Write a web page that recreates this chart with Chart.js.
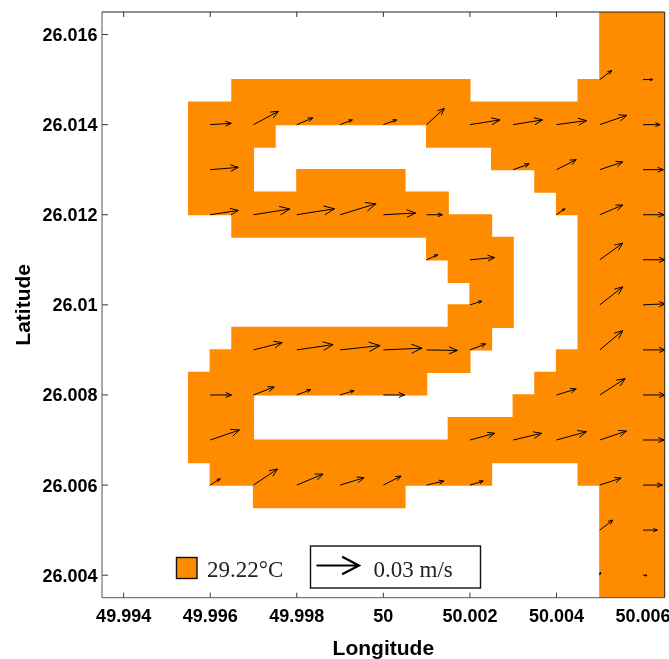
<!DOCTYPE html>
<html>
<head>
<meta charset="utf-8">
<title>Currents and temperature</title>
<script src="https://cdn.jsdelivr.net/npm/chart.js@4/dist/chart.umd.min.js"></script>
<style>
  html, body { margin: 0; padding: 0; background: #fff; }
  canvas { display: block; }
</style>
</head>
<body>
<canvas id="quiver" width="669" height="659"></canvas>
<script>
const xTicks = [49.994, 49.996, 49.998, 50, 50.002, 50.004, 50.006];
const xTickLabels = ['49.994', '49.996', '49.998', '50', '50.002', '50.004', '50.006'];
const yTicks = [26.004, 26.006, 26.008, 26.01, 26.012, 26.014, 26.016];
const yTickLabels = ['26.004', '26.006', '26.008', '26.01', '26.012', '26.014', '26.016'];

// centre latitude of each row of cells, and the lon ranges that are water in that row
const rowLat = [26.01625, 26.01575, 26.01525, 26.01475, 26.01425, 26.01375, 26.01325, 26.01275, 26.01225,
  26.01175, 26.01125, 26.01075, 26.01025, 26.00975, 26.00925, 26.00875, 26.00825, 26.00775, 26.00725,
  26.00675, 26.00625, 26.00575, 26.00525, 26.00475, 26.00425, 26.00375];
const rowSpans = [
  [[50.005, 50.0065]],
  [[50.005, 50.0065]],
  [[50.005, 50.0065]],
  [[49.9965, 50.002], [50.0045, 50.0065]],
  [[49.9955, 50.0065]],
  [[49.9955, 49.9975], [50.001, 50.0065]],
  [[49.9955, 49.997], [50.0025, 50.0065]],
  [[49.9955, 49.997], [49.998, 50.0005], [50.0035, 50.0065]],
  [[49.9955, 50.0015], [50.004, 50.0065]],
  [[49.9965, 50.0025], [50.0045, 50.0065]],
  [[50.001, 50.003], [50.0045, 50.0065]],
  [[50.0015, 50.003], [50.0045, 50.0065]],
  [[50.002, 50.003], [50.0045, 50.0065]],
  [[50.0015, 50.003], [50.0045, 50.0065]],
  [[49.9965, 50.0025], [50.0045, 50.0065]],
  [[49.996, 50.002], [50.004, 50.0065]],
  [[49.9955, 50.001], [50.0035, 50.0065]],
  [[49.9955, 49.997], [50.003, 50.0065]],
  [[49.9955, 49.997], [50.0015, 50.0065]],
  [[49.9955, 50.0065]],
  [[49.996, 50.0025], [50.0045, 50.0065]],
  [[49.997, 50.0005], [50.005, 50.0065]],
  [[50.005, 50.0065]],
  [[50.005, 50.0065]],
  [[50.005, 50.0065]],
  [[50.005, 50.0065]]
];

// arrows, row by row from the top. u and v in cm/s
const arrowLon = [
  50.005, 50.006,
  49.996, 49.997, 49.998, 49.999, 50, 50.001, 50.002, 50.003, 50.004, 50.005, 50.006,
  49.996, 50.003, 50.004, 50.005, 50.006,
  49.996, 49.997, 49.998, 49.999, 50, 50.001, 50.004, 50.005, 50.006,
  50.001, 50.002, 50.005, 50.006,
  50.002, 50.005, 50.006,
  49.997, 49.998, 49.999, 50, 50.001, 50.002, 50.005, 50.006,
  49.996, 49.997, 49.998, 49.999, 50, 50.004, 50.005, 50.006,
  49.996, 50.002, 50.003, 50.004, 50.005, 50.006,
  49.996, 49.997, 49.998, 49.999, 50, 50.001, 50.002, 50.005, 50.006,
  50.005, 50.006,
  50.005, 50.006
];
const arrowLat = [
  26.015, 26.015,
  26.014, 26.014, 26.014, 26.014, 26.014, 26.014, 26.014, 26.014, 26.014, 26.014, 26.014,
  26.013, 26.013, 26.013, 26.013, 26.013,
  26.012, 26.012, 26.012, 26.012, 26.012, 26.012, 26.012, 26.012, 26.012,
  26.011, 26.011, 26.011, 26.011,
  26.01, 26.01, 26.01,
  26.009, 26.009, 26.009, 26.009, 26.009, 26.009, 26.009, 26.009,
  26.008, 26.008, 26.008, 26.008, 26.008, 26.008, 26.008, 26.008,
  26.007, 26.007, 26.007, 26.007, 26.007, 26.007,
  26.006, 26.006, 26.006, 26.006, 26.006, 26.006, 26.006, 26.006, 26.006,
  26.005, 26.005,
  26.004, 26.004
];
const arrowU = [
  0.84, 0.68,
  1.47, 1.75, 1.12, 0.86, 0.93, 1.24, 2.1, 2.05, 2.1, 1.89, 1.19,
  1.96, 1.12, 1.38, 1.61, 1.42,
  1.96, 2.54, 2.64, 2.52, 2.26, 1.1, 0.58, 1.61, 1.47,
  0.77, 1.73, 1.61, 1.54,
  0.84, 1.61, 1.54,
  2.01, 2.54, 2.8, 2.71, 2.15, 1.1, 1.61, 1.54,
  1.49, 1.45, 0.98, 0.98, 1.49, 1.38, 1.77, 1.54,
  2.05, 1.73, 1.98, 2.1, 1.87, 1.47,
  0.7, 1.68, 1.84, 1.68, 1.24, 1.21, 0.93, 1.49, 1.35,
  0.91, 1.0,
  0.05, 0.28
];
const arrowV = [
  0.63, 0,
  0.09, 0.93, 0.47, 0.33, 0.33, 1.14, 0.33, 0.33, 0.28, 0.65, 0,
  0.16, 0.4, 0.7, 0.54, 0,
  0.3, 0.4, 0.42, 0.77, 0.12, 0, 0.42, 0.68, 0,
  0.35, 0.16, 1.17, 0,
  0.26, 1.26, 0.07,
  0.51, 0.37, 0.3, 0.12, -0.04, 0.42, 1.35, 0,
  0, 0.56, 0.37, 0.3, 0, 0.42, 1.14, 0,
  0.7, 0.47, 0.47, 0.58, 0.63, 0,
  0.44, 1.12, 0.77, 0.51, 0.63, 0.28, 0.28, 0.49, 0,
  0.7, 0,
  0.21, -0.02
];

const tempLabel = '29.22°C';
const speedLabel = '0.03 m/s';
const PX_PER_CM = 14.3;
const ORANGE = '#ff8c00';

// one bar dataset per span position, bars in the same row sit on top of each other
let spanDatasets = [];
for (let k = 0; k < 3; k++) {
  let pts = [];
  rowLat.forEach((lat, i) => {
    if (rowSpans[i][k]) pts.push({ x: rowSpans[i][k], y: lat });
  });
  spanDatasets.push({
    type: 'bar',
    indexAxis: 'y',
    grouped: false,
    data: pts,
    backgroundColor: ORANGE,
    barPercentage: 1,
    categoryPercentage: 1,
    inflateAmount: 0.6,
    order: 2
  });
}

const arrowDataset = {
  type: 'scatter',
  data: arrowLon.map((lon, i) => ({ x: lon, y: arrowLat[i] })),
  pointRadius: 0,
  order: 1
};

function drawArrow(ctx, x0, y0, x1, y1, barb, spread) {
  const a = Math.atan2(y1 - y0, x1 - x0);
  ctx.beginPath();
  ctx.moveTo(x0, y0);
  ctx.lineTo(x1, y1);
  ctx.moveTo(x1 - barb * Math.cos(a - spread), y1 - barb * Math.sin(a - spread));
  ctx.lineTo(x1, y1);
  ctx.lineTo(x1 - barb * Math.cos(a + spread), y1 - barb * Math.sin(a + spread));
  ctx.stroke();
}

const ticksPlugin = {
  id: 'ticksPlugin',
  beforeDraw(chart) {
    // y labels sit a little lower than chart.js centres them
    chart.scales.y.getLabelItems().forEach(item => {
      if (!item.shifted) {
        item.options.translation[1] += 1.5;
        item.shifted = true;
      }
    });
  },
  beforeDatasetsDraw(chart) {
    const { ctx, chartArea: a, scales: { x, y } } = chart;
    ctx.save();
    ctx.strokeStyle = '#333';
    ctx.lineWidth = 1;
    ctx.beginPath();
    x.ticks.forEach(t => {
      const px = x.getPixelForValue(t.value);
      ctx.moveTo(px, a.bottom); ctx.lineTo(px, a.bottom - 5);
      ctx.moveTo(px, a.top); ctx.lineTo(px, a.top + 5);
    });
    y.ticks.forEach(t => {
      const py = y.getPixelForValue(t.value);
      ctx.moveTo(a.left, py); ctx.lineTo(a.left + 6, py);
    });
    ctx.stroke();
    ctx.restore();
  }
};

const quiverPlugin = {
  id: 'quiverPlugin',
  afterDatasetsDraw(chart) {
    const { ctx, chartArea: a, scales: { x, y } } = chart;
    ctx.save();
    ctx.beginPath();
    ctx.rect(a.left, a.top, a.right - a.left, a.bottom - a.top);
    ctx.clip();
    ctx.strokeStyle = '#000';
    ctx.lineWidth = 1;
    arrowLon.forEach((lon, i) => {
      const x0 = x.getPixelForValue(lon);
      const y0 = y.getPixelForValue(arrowLat[i]);
      const dx = arrowU[i] * PX_PER_CM;
      const dy = arrowV[i] * PX_PER_CM;
      const len = Math.sqrt(dx * dx + dy * dy);
      drawArrow(ctx, x0, y0, x0 + dx, y0 - dy, Math.max(len * 0.3, 2), 0.4);
    });
    ctx.restore();

    // axes box
    ctx.save();
    ctx.lineWidth = 1;
    ctx.strokeStyle = '#555';
    ctx.beginPath();
    ctx.moveTo(a.left, a.top); ctx.lineTo(a.left, a.bottom); ctx.lineTo(a.right, a.bottom);
    ctx.stroke();
    ctx.strokeStyle = '#222';
    ctx.beginPath();
    ctx.moveTo(a.left, a.top); ctx.lineTo(a.right, a.top); ctx.lineTo(a.right, a.bottom);
    ctx.stroke();
    ctx.restore();

    // legend
    ctx.save();
    ctx.fillStyle = ORANGE;
    ctx.strokeStyle = '#111';
    ctx.lineWidth = 1.4;
    ctx.fillRect(176.5, 557.5, 20.5, 21);
    ctx.strokeRect(176.5, 557.5, 20.5, 21);
    ctx.fillStyle = '#fff';
    ctx.fillRect(310.5, 546, 170, 42);
    ctx.strokeRect(310.5, 546, 170, 42);
    ctx.lineWidth = 2.2;
    ctx.strokeStyle = '#000';
    drawArrow(ctx, 316.5, 565.5, 359, 565.5, 19, 0.48);
    ctx.fillStyle = '#222';
    ctx.font = '23px "Liberation Serif"';
    ctx.textBaseline = 'alphabetic';
    ctx.fillText(tempLabel, 207, 576.5);
    ctx.fillText(speedLabel, 373.5, 576.5);
    ctx.restore();
  }
};

const tickFont = { family: '"Liberation Sans"', size: 18, weight: 'bold' };
const titleFont = { family: '"Liberation Sans"', size: 21, weight: 'bold', lineHeight: 1 };

new Chart(document.getElementById('quiver'), {
  data: { datasets: [...spanDatasets, arrowDataset] },
  plugins: [ticksPlugin, quiverPlugin],
  options: {
    responsive: false,
    animation: false,
    layout: { padding: { top: 12, right: 4.3, left: 0, bottom: 0 } },
    plugins: { legend: { display: false }, tooltip: { enabled: false } },
    scales: {
      x: {
        type: 'linear',
        min: 49.9935,
        max: 50.0065,
        position: 'bottom',
        offset: false,
        grid: { display: false, drawTicks: false },
        border: { display: false },
        afterBuildTicks(s) { s.ticks = xTicks.map(v => ({ value: v })); },
        afterFit(s) { s.height = 61.3; s.paddingLeft = s.paddingRight = 0; },
        ticks: {
          autoSkip: false, maxRotation: 0, color: '#000', font: tickFont, padding: 9,
          callback: (v, i) => xTickLabels[i]
        },
        title: { display: true, text: 'Longitude', color: '#000', font: titleFont, align: 'center', padding: { top: 0, bottom: -1 } }
      },
      y: {
        type: 'linear',
        min: 26.0035,
        max: 26.0165,
        position: 'left',
        offset: false,
        grid: { display: false, drawTicks: false },
        border: { display: false },
        afterBuildTicks(s) { s.ticks = yTicks.map(v => ({ value: v })); },
        afterFit(s) { s.width = 102; s.paddingTop = s.paddingBottom = 0; },
        ticks: {
          autoSkip: false, color: '#000', font: tickFont, padding: 4.5,
          callback: (v, i) => yTickLabels[i]
        },
        title: { display: true, text: 'Latitude', color: '#000', font: titleFont, padding: { top: 14, bottom: 0 } }
      }
    }
  }
});
</script>
</body>
</html>
